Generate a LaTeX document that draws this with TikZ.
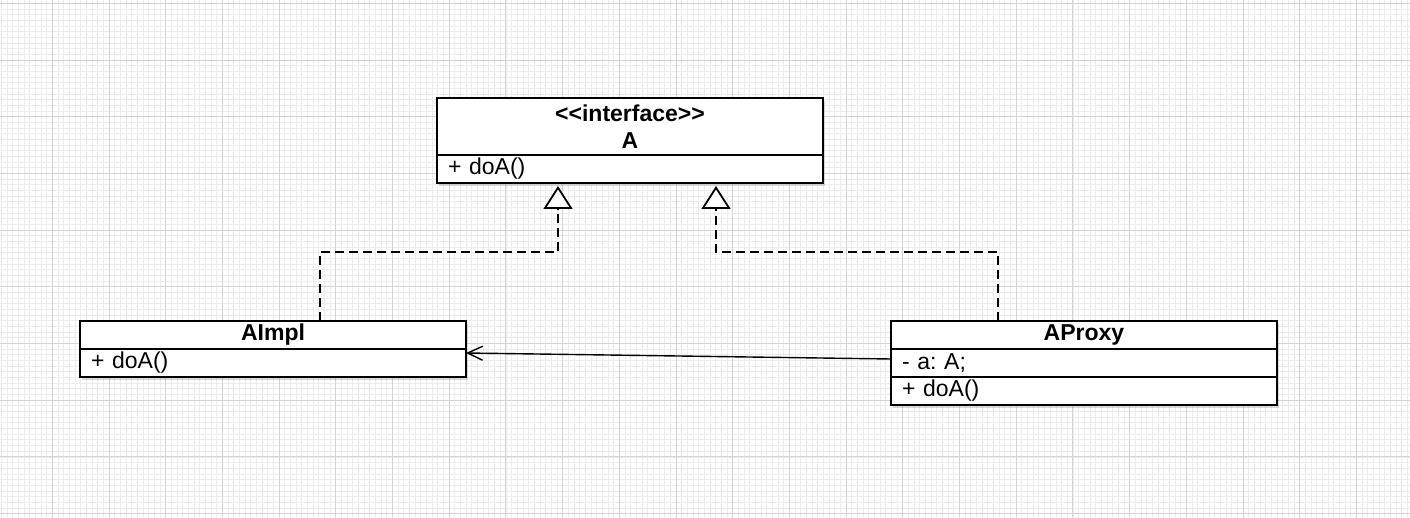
\documentclass[tikz,border=0pt]{standalone}
\usepackage{fontspec}
\setmainfont{Liberation Sans}
\usetikzlibrary{positioning,arrows.meta,shadows}
\definecolor{gridminor}{RGB}{236,236,236}
\definecolor{gridmajor}{RGB}{212,212,212}
\newcommand{\stereotype}[1]{<\kern0pt<#1>\kern0pt>}
\frenchspacing

\begin{document}
\begin{tikzpicture}[x=1pt,y=-1pt,
  classhead/.style={draw, fill=white, line width=2pt, outer sep=0pt, minimum width=386pt, minimum height=28pt, inner sep=0pt, align=center, font=\fontsize{23}{27}\selectfont\bfseries, drop shadow={shadow xshift=2pt, shadow yshift=-3pt, opacity=0.3}},
  member/.style={draw, fill=white, line width=2pt, outer sep=0pt, minimum height=28pt, inner xsep=11pt, inner ysep=0pt, text width=364pt, align=left, font=\fontsize{23}{27}\selectfont, drop shadow={shadow xshift=2pt, shadow yshift=-3pt, opacity=0.3}},
  realize/.style={line width=1.8pt, dash pattern=on 9pt off 5pt, -{Triangle[open, fill=white, length=23pt, width=29pt, line width=1.8pt]}, shorten >=3pt},
  assoc/.style={line width=1.4pt, -{Straight Barb[length=15pt, width=14pt, line width=1.4pt]}}
]
\useasboundingbox (0,0) rectangle (1410,518);
% grid
\foreach \i in {1,...,249} \draw[gridminor, line width=0.8pt] ({-4.4+5.67*\i},0) -- ({-4.4+5.67*\i},518);
\foreach \i in {0,...,91} \draw[gridminor, line width=0.8pt] (0,{3.3+5.67*\i}) -- (1410,{3.3+5.67*\i});
\foreach \i in {1,...,24} \draw[gridmajor, line width=0.9pt] ({-4.4+56.7*\i},0) -- ({-4.4+56.7*\i},518);
\foreach \i in {0,...,9} \draw[gridmajor, line width=0.9pt] (0,{3.3+56.7*\i}) -- (1410,{3.3+56.7*\i});

\node[classhead, minimum height=57pt, anchor=north] (aHead) at (630,98) {\stereotype{interface}\\A};
\node[member, below=0pt of aHead] (aOps) {+ doA()};

\node[classhead, anchor=north] (aImplHead) at (273,321) {AImpl};
\node[member, below=0pt of aImplHead] (aImplOps) {+ doA()};

\node[classhead, anchor=north] (aProxyHead) at (1084,321) {AProxy};
\node[member, below=0pt of aProxyHead] (aProxyAttr) {- a: A;};
\node[member, below=0pt of aProxyAttr] (aProxyOps) {+ doA()};

\draw[realize] ([xshift=47pt]aImplHead.north) -- ++(0,-69) -| ([xshift=-72pt]aOps.south);
\draw[realize] ([xshift=-86pt]aProxyHead.north) -- ++(0,-69) -| ([xshift=86pt]aOps.south);
\draw[assoc] ([yshift=4pt]aProxyAttr.west) -- ([yshift=10pt]aImplOps.east);

\end{tikzpicture}
\end{document}
